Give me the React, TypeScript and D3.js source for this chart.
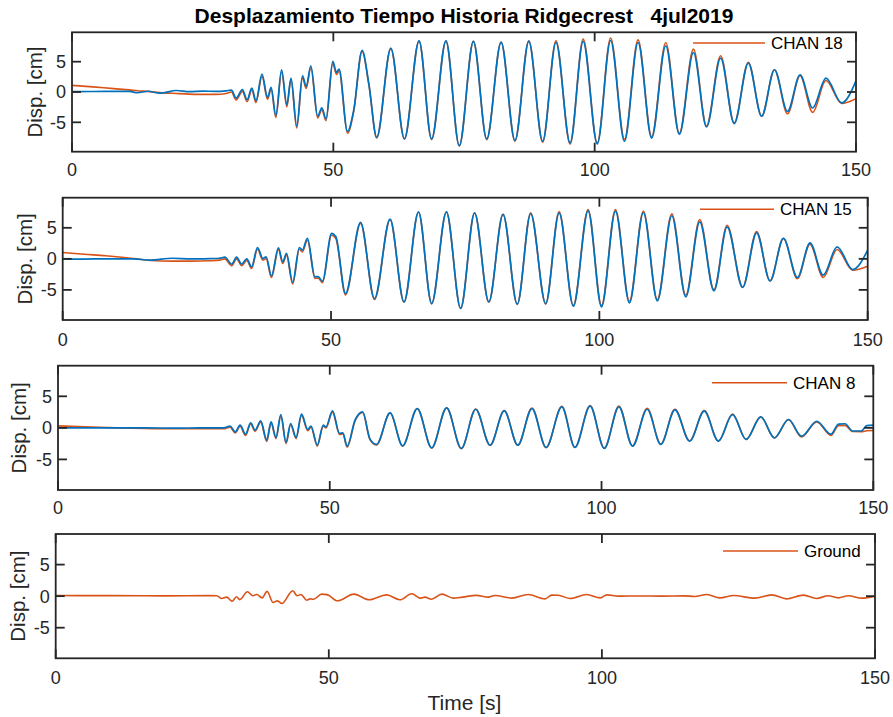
import React from "react";
import * as d3 from "d3";

// ---------- data ----------
const xTicks = [0, 50, 100, 150];
const yTicks = [-5, 0, 5];
const xDomain = [0, 150];
const yDomain = [-9.85, 9.85];

const titleText = "Desplazamiento Tiempo Historia Ridgecrest   4jul2019";
const yLabelText = "Disp. [cm]";
const xLabelText = "Time [s]";
const legendNames = ["CHAN 18", "CHAN 15", "CHAN 8", "Ground"];

// CHAN 18
const t18 = [0, 4, 8, 11, 12.5, 14.5, 16.8, 20, 22.5, 25, 27.5, 29.5, 30.5, 31.4, 32.6, 33.5, 34.4, 35.2, 36.35, 37.4, 38.1, 39.0, 40.1, 41.1, 41.9, 43.0, 44.1, 44.8, 45.7, 47.0, 47.8, 48.6, 49.9, 50.6, 51.1, 52.7, 53.9, 55.5, 56.8, 58.3, 61.0, 63.6, 66.4, 68.8, 71.55, 74.1, 76.8, 79.35, 82.1, 84.75, 87.4, 90.05, 92.6, 95.3, 97.8, 100.5, 103.05, 105.7, 108.3, 110.9, 113.6, 116.2, 118.9, 121.4, 124.1, 126.7, 129.4, 131.95, 134.4, 136.9, 139.3, 141.7, 144.25, 147.25, 150];
const c18Blue = [0.05, 0.08, 0.1, 0.1, -0.12, 0.12, -0.2, 0.25, 0.05, 0.15, 0.1, 0.2, 0.3, -1.0, 0.4, -1.27, 0.65, -1.43, 2.96, -0.88, 0.77, -3.9, 3.67, -2.1, 2.3, -5.66, 2.68, 0.93, 4.33, -4.0, -2.6, -4.45, 5.05, 3.23, 3.78, -6.5, -3.0, 6.86, 1.3, -7.47, 7.25, -7.7, 8.45, -7.75, 8.45, -8.85, 8.34, -7.75, 8.2, -8.0, 8.34, -8.1, 8.17, -8.4, 8.34, -8.57, 8.5, -8.1, 8.17, -7.6, 7.63, -7.0, 6.52, -5.77, 5.6, -5.22, 4.78, -4.0, 3.67, -3.2, 2.85, -2.64, 2.3, -1.8, 1.85];
const c18Orange = [1.1, 0.85, 0.55, 0.35, 0.2, 0.1, -0.1, -0.25, -0.35, -0.4, -0.4, -0.25, 0.0, -1.3, 0.1, -1.6, 0.35, -1.75, 2.6, -1.2, 0.45, -4.2, 3.35, -2.45, 2.0, -5.95, 2.35, 0.6, 4.0, -4.3, -2.9, -4.75, 4.75, 2.9, 3.45, -6.8, -3.2, 6.7, 1.2, -7.6, 7.15, -7.8, 8.4, -7.85, 8.4, -8.9, 8.35, -7.85, 8.25, -8.1, 8.45, -8.3, 8.45, -8.6, 8.73, -8.4, 8.9, -7.8, 8.6, -7.4, 8.17, -6.8, 7.08, -5.6, 5.98, -5.1, 4.9, -4.0, 3.67, -3.6, 2.7, -3.36, 1.9, -1.9, -1.1];

// CHAN 15
const t15 = [0, 4, 8, 13.2, 16.3, 20.4, 24, 27.4, 29.2, 30.2, 31.5, 32.4, 33.35, 34.3, 35.2, 36.3, 37.3, 37.9, 38.9, 40.2, 41.0, 41.7, 42.85, 44.1, 44.65, 45.6, 47.0, 47.6, 48.4, 50.1, 50.9, 52.7, 55.5, 58.1, 61.0, 63.6, 66.3, 68.75, 71.5, 74.15, 76.75, 79.4, 82.05, 84.7, 87.2, 90.0, 92.5, 95.15, 97.9, 100.4, 103.0, 105.6, 108.2, 110.8, 113.5, 116.1, 118.7, 121.35, 123.8, 126.7, 129.3, 131.8, 134.3, 136.9, 139.25, 141.7, 144.3, 147.2, 150];
const c15Blue = [-0.05, -0.03, 0.0, 0.0, -0.2, 0.1, 0.0, 0.05, 0.1, 0.27, -0.85, 0.27, -0.85, 0.0, -1.29, 1.83, 0.05, 0.33, -2.74, 1.78, -0.48, 0.87, -3.8, 1.83, 1.4, 3.29, -2.9, -2.85, -3.6, 4.1, 3.55, -5.58, 5.87, -6.4, 6.4, -6.93, 7.58, -7.2, 7.58, -7.95, 7.42, -6.93, 7.15, -7.3, 7.3, -7.2, 7.42, -7.63, 7.74, -7.74, 7.7, -7.1, 7.47, -6.77, 6.94, -6.12, 5.97, -5.15, 5.16, -4.6, 4.2, -3.54, 3.29, -3.0, 2.58, -2.63, 1.94, -1.72, 1.4];
const c15Orange = [1.03, 0.75, 0.5, 0.06, -0.26, -0.37, -0.37, -0.3, -0.2, 0.0, -1.1, 0.0, -1.1, -0.25, -1.55, 1.55, -0.2, 0.05, -3.0, 1.5, -0.75, 0.6, -4.05, 1.55, 1.1, 3.0, -3.15, -3.1, -3.85, 3.8, 3.25, -5.8, 5.7, -6.55, 6.3, -7.0, 7.55, -7.25, 7.55, -8.0, 7.42, -7.0, 7.2, -7.35, 7.4, -7.3, 7.6, -7.5, 7.96, -7.5, 7.96, -6.8, 7.7, -6.55, 7.25, -5.85, 6.34, -4.95, 5.4, -4.55, 4.4, -3.54, 3.29, -3.2, 2.37, -3.0, 1.51, -1.83, -1.18];

// CHAN 8
const t8 = [0, 5, 10.8, 16, 22, 26, 30.5, 31.65, 32.6, 33.5, 34.5, 35.45, 36.25, 37.3, 38.4, 39.2, 40.1, 41.0, 41.95, 42.8, 43.8, 44.8, 45.95, 46.55, 47.7, 48.8, 49.3, 50.5, 51.8, 52.4, 53.2, 54.65, 56.05, 57.4, 58.6, 61.1, 63.4, 66.1, 68.75, 71.5, 74.2, 76.85, 79.5, 82.1, 84.6, 87.2, 89.8, 92.7, 95.1, 97.9, 100.5, 103.2, 105.7, 108.4, 110.9, 113.5, 116.2, 118.9, 121.5, 124.1, 126.6, 129.3, 131.8, 134.4, 136.8, 139.6, 142.2, 143.6, 144.8, 146.2, 147.8, 148.8, 150];
const c8Blue = [0.0, 0.0, 0.0, 0.0, -0.05, 0.0, 0.0, 0.27, -0.63, 0.42, -1.0, 0.79, -0.37, 1.1, -1.94, 0.95, -1.52, 2.1, -2.3, 0.69, -1.52, 2.16, -0.26, 0.27, -2.73, 0.42, 0.16, 2.69, -0.89, -0.8, -2.9, 1.21, 2.53, -1.79, -2.63, 2.37, -2.84, 3.06, -3.16, 3.16, -3.26, 2.95, -2.73, 2.69, -2.73, 3.06, -3.1, 3.32, -3.1, 3.43, -3.26, 3.32, -2.9, 2.95, -2.63, 2.84, -2.1, 2.64, -2.1, 2.1, -1.84, 1.74, -1.58, 1.32, -1.31, 1.05, -1.0, 0.6, 0.65, -0.5, -0.5, 0.35, 0.42];
const c8Orange = [0.32, 0.18, 0.0, -0.1, -0.15, -0.15, -0.15, 0.1, -0.8, 0.25, -1.2, 0.6, -0.55, 0.9, -2.15, 0.75, -1.7, 1.9, -2.5, 0.5, -1.7, 1.95, -0.45, 0.1, -2.9, 0.25, 0.0, 2.5, -1.05, -0.95, -3.05, 1.1, 2.45, -1.85, -2.7, 2.35, -2.9, 3.06, -3.2, 3.16, -3.3, 2.97, -2.78, 2.75, -2.78, 3.15, -3.15, 3.42, -3.1, 3.55, -3.2, 3.45, -2.85, 3.1, -2.55, 2.95, -2.05, 2.75, -2.1, 2.2, -1.84, 1.74, -1.6, 1.3, -1.45, 0.95, -1.2, 0.35, 0.4, -0.58, -0.6, -0.45, -0.42];

// Ground
const tG = [0, 10, 20, 28, 29.5, 30.4, 31.3, 32.3, 33.1, 33.7, 35.1, 36.1, 36.8, 37.8, 38.7, 39.8, 40.6, 41.4, 43.4, 44.2, 44.9, 45.95, 46.6, 47.2, 48.7, 49.8, 51.6, 54.6, 57.4, 60.6, 63.0, 65.2, 66.7, 67.6, 68.8, 70.7, 72.8, 74.5, 77.0, 79.2, 80.4, 83.5, 86.5, 89.6, 90.8, 92.0, 94.2, 97.2, 99.7, 100.9, 103, 107, 111, 115, 117, 119.2, 121.6, 124.1, 128.0, 131.1, 133.8, 136.9, 139.3, 141.4, 143.3, 145.1, 147.6, 150];
const groundVals = [0.1, 0.08, 0.05, 0.08, 0.06, -0.37, -0.16, -0.8, -0.1, -0.55, 0.7, 0.06, 0.27, -0.27, 0.75, -1.0, -0.75, -1.17, 0.86, 0.06, 0.27, -0.64, -0.43, -0.5, 0.32, 0.2, -0.74, 0.32, -0.58, 0.21, -0.58, 0.37, -0.32, -0.16, -0.48, 0.32, -0.32, -0.15, 0.12, -0.16, 0.1, -0.32, 0.27, -0.43, 0.16, 0.14, -0.37, 0.27, -0.27, 0.21, 0.0, 0.03, 0.0, 0.05, -0.05, 0.27, -0.27, 0.1, -0.32, 0.21, -0.43, 0.16, -0.37, 0.06, -0.27, 0.06, -0.32, 0.0];

// ---------- layout / style ----------
const ORANGE = "#D95319";
const BLUE = "#0072BD";
const AXIS = "#262626";
const FONT = "'Liberation Sans', Arial, Helvetica, sans-serif";

type Panel = {
  left: number; right: number; top: number; bottom: number;
  xlabBase: number; ylabX: number;
  leg: { x1: number; x2: number; y: number; tx: number };
  t: number[]; orange: number[]; blue: number[] | null; name: string;
};

const panels: Panel[] = [
  { left: 72, right: 856, top: 32.3, bottom: 151.7, xlabBase: 176, ylabX: 42, leg: { x1: 693, x2: 765, y: 43, tx: 771 }, t: t18, orange: c18Orange, blue: c18Blue, name: legendNames[0] },
  { left: 62.7, right: 867.7, top: 197.7, bottom: 320, xlabBase: 345.7, ylabX: 31.5, leg: { x1: 700, x2: 774, y: 209.3, tx: 780 }, t: t15, orange: c15Orange, blue: c15Blue, name: legendNames[1] },
  { left: 58, right: 873.3, top: 365.7, bottom: 490, xlabBase: 513.5, ylabX: 26, leg: { x1: 712, x2: 787, y: 382.7, tx: 793 }, t: t8, orange: c8Orange, blue: c8Blue, name: legendNames[2] },
  { left: 55.7, right: 875, top: 534, bottom: 658.3, xlabBase: 683.5, ylabX: 24.5, leg: { x1: 723, x2: 798, y: 551, tx: 804 }, t: tG, orange: groundVals, blue: null, name: legendNames[3] },
];

const TICK = 9;

function PanelView({ p, i }: { p: Panel; i: number }) {
  const x = d3.scaleLinear().domain(xDomain).range([p.left, p.right]);
  const y = d3.scaleLinear().domain(yDomain).range([p.bottom, p.top]);
  const line = d3
    .line<number>()
    .x((_, k) => x(p.t[k]))
    .y((v) => y(v))
    .curve(d3.curveMonotoneX);
  const clipId = `clip${i}`;
  const cy = (p.top + p.bottom) / 2;
  return (
    <g>
      <defs>
        <clipPath id={clipId}>
          <rect x={p.left} y={p.top} width={p.right - p.left} height={p.bottom - p.top} />
        </clipPath>
      </defs>
      <g clipPath={`url(#${clipId})`}>
        <path d={line(p.orange) || ""} fill="none" stroke={ORANGE} strokeWidth={1.6} strokeLinejoin="round" />
        {p.blue && (
          <path d={line(p.blue) || ""} fill="none" stroke={BLUE} strokeWidth={1.7} strokeLinejoin="round" />
        )}
      </g>
      {/* box */}
      <rect x={p.left} y={p.top} width={p.right - p.left} height={p.bottom - p.top} fill="none" stroke={AXIS} strokeWidth={1.8} />
      {/* x ticks */}
      {xTicks.map((tv) => (
        <g key={"x" + tv}>
          <line x1={x(tv)} x2={x(tv)} y1={p.bottom} y2={p.bottom - TICK} stroke={AXIS} strokeWidth={1.8} />
          <line x1={x(tv)} x2={x(tv)} y1={p.top} y2={p.top + TICK} stroke={AXIS} strokeWidth={1.8} />
          <text x={x(tv)} y={p.xlabBase} textAnchor="middle" fontSize={18} fontFamily={FONT} fill={AXIS}>
            {tv}
          </text>
        </g>
      ))}
      {/* y ticks */}
      {yTicks.map((tv) => (
        <g key={"y" + tv}>
          <line x1={p.left} x2={p.left + TICK} y1={y(tv)} y2={y(tv)} stroke={AXIS} strokeWidth={1.8} />
          <line x1={p.right} x2={p.right - TICK} y1={y(tv)} y2={y(tv)} stroke={AXIS} strokeWidth={1.8} />
          <text x={p.left - 6} y={y(tv)} dy="0.36em" textAnchor="end" fontSize={18} fontFamily={FONT} fill={AXIS}>
            {tv}
          </text>
        </g>
      ))}
      {/* y label */}
      <text
        transform={`translate(${p.ylabX},${cy}) rotate(-90)`}
        textAnchor="middle"
        fontSize={20.5}
        fontFamily={FONT}
        fill={AXIS}
      >
        {yLabelText}
      </text>
      {/* legend */}
      <line x1={p.leg.x1} x2={p.leg.x2} y1={p.leg.y} y2={p.leg.y} stroke={ORANGE} strokeWidth={1.6} />
      <text x={p.leg.tx} y={p.leg.y} dy="0.36em" fontSize={17} fontFamily={FONT} fill="#000">
        {p.name}
      </text>
    </g>
  );
}

export default function App() {
  return (
    <svg
      width={893}
      height={717}
      style={{ position: "absolute", left: 0, top: 0, background: "#fff" }}
    >
      <rect x={0} y={0} width={893} height={717} fill="#fff" />
      <text
        x={464}
        y={23}
        textAnchor="middle"
        fontSize={21}
        fontWeight="bold"
        fontFamily={FONT}
        fill="#000"
        xmlSpace="preserve"
        style={{ whiteSpace: "pre" }}
      >
        {titleText}
      </text>
      {panels.map((p, i) => (
        <PanelView key={i} p={p} i={i} />
      ))}
      <text x={464.5} y={710} textAnchor="middle" fontSize={21} fontFamily={FONT} fill={AXIS}>
        {xLabelText}
      </text>
    </svg>
  );
}
